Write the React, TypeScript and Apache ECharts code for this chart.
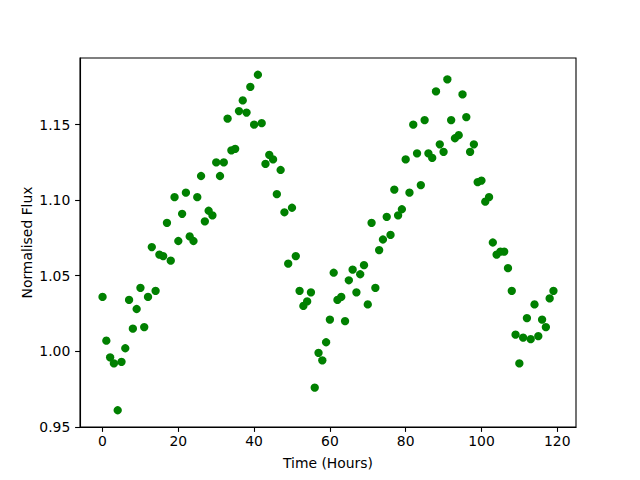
import React, { useEffect, useRef } from "react";
import * as echarts from "echarts";

const hours: number[] = Array.from({ length: 120 }, (_, i) => i);
const flux: number[] = [
  1.036, 1.007, 0.996, 0.992, 0.961, 0.993, 1.002, 1.034, 1.015, 1.028,
  1.042, 1.016, 1.036, 1.069, 1.040, 1.064, 1.063, 1.085, 1.060, 1.102,
  1.073, 1.091, 1.105, 1.076, 1.073, 1.102, 1.116, 1.086, 1.093, 1.090,
  1.125, 1.116, 1.125, 1.154, 1.133, 1.134, 1.159, 1.166, 1.158, 1.175,
  1.150, 1.183, 1.151, 1.124, 1.130, 1.127, 1.104, 1.120, 1.092, 1.058,
  1.095, 1.063, 1.040, 1.030, 1.033, 1.039, 0.976, 0.999, 0.994, 1.006,
  1.021, 1.052, 1.034, 1.036, 1.020, 1.047, 1.054, 1.039, 1.051, 1.057,
  1.031, 1.085, 1.042, 1.067, 1.074, 1.089, 1.077, 1.107, 1.090, 1.094,
  1.127, 1.105, 1.150, 1.131, 1.110, 1.153, 1.131, 1.128, 1.172, 1.137,
  1.132, 1.180, 1.153, 1.141, 1.143, 1.170, 1.155, 1.132, 1.137, 1.112,
  1.113, 1.099, 1.102, 1.072, 1.064, 1.066, 1.066, 1.055, 1.040, 1.011,
  0.992, 1.009, 1.022, 1.008, 1.031, 1.010, 1.021, 1.016, 1.035, 1.040,
];
const xTicks: number[] = [0, 20, 40, 60, 80, 100, 120];
const yTicks: number[] = [0.95, 1.0, 1.05, 1.1, 1.15];

const FONT = "DejaVu Sans";

export default function App() {
  const ref = useRef<HTMLDivElement>(null);
  useEffect(() => {
    if (!ref.current) return;
    const chart = echarts.init(ref.current, null, { renderer: "svg" });
    chart.setOption({
      animation: false,
      backgroundColor: "#ffffff",
      grid: {
        left: 80,
        top: 58,
        width: 496,
        height: 369,
        show: true,
        borderColor: "#000000",
        borderWidth: 1.1,
        backgroundColor: "transparent",
      },
      xAxis: {
        type: "value",
        min: -5.95,
        max: 124.95,
        name: "Time (Hours)",
        nameLocation: "middle",
        nameGap: 29,
        nameTextStyle: { fontFamily: FONT, fontSize: 13.9, color: "#000", verticalAlign: "top" },
        axisLine: { show: true, onZero: false, lineStyle: { color: "#000", width: 1.1 } },
        axisTick: {
          show: true,
          inside: false,
          length: 4.9,
          lineStyle: { color: "#000", width: 1.1 },
          customValues: xTicks,
        },
        axisLabel: {
          show: true,
          margin: 7,
          fontFamily: FONT,
          fontSize: 13.9,
          color: "#000",
          customValues: xTicks,
          formatter: (v: number) => String(v),
        },
        splitLine: { show: false },
      },
      yAxis: {
        type: "value",
        min: 0.9499,
        max: 1.1941,
        name: "Normalised Flux",
        nameLocation: "middle",
        nameGap: 46,
        nameRotate: 90,
        nameMoveOverlap: false,
        nameTextStyle: { fontFamily: FONT, fontSize: 13.9, color: "#000" },
        axisLine: { show: true, onZero: false, lineStyle: { color: "#000", width: 1.1 } },
        axisTick: {
          show: true,
          inside: false,
          length: 4.9,
          lineStyle: { color: "#000", width: 1.1 },
          customValues: yTicks,
        },
        axisLabel: {
          show: true,
          margin: 9.7,
          fontFamily: FONT,
          fontSize: 13.9,
          color: "#000",
          customValues: yTicks,
          formatter: (v: number) => v.toFixed(2),
        },
        splitLine: { show: false },
      },
      series: [
        {
          type: "scatter",
          data: hours.map((h, i) => [h, flux[i]]),
          symbol: "circle",
          symbolSize: 8.3,
          itemStyle: { color: "#008000", opacity: 1 },
          clip: false,
        },
      ],
    });
    return () => chart.dispose();
  }, []);
  return <div ref={ref} style={{ width: 640, height: 480, position: "fixed", left: 0, top: 0 }} />;
}
